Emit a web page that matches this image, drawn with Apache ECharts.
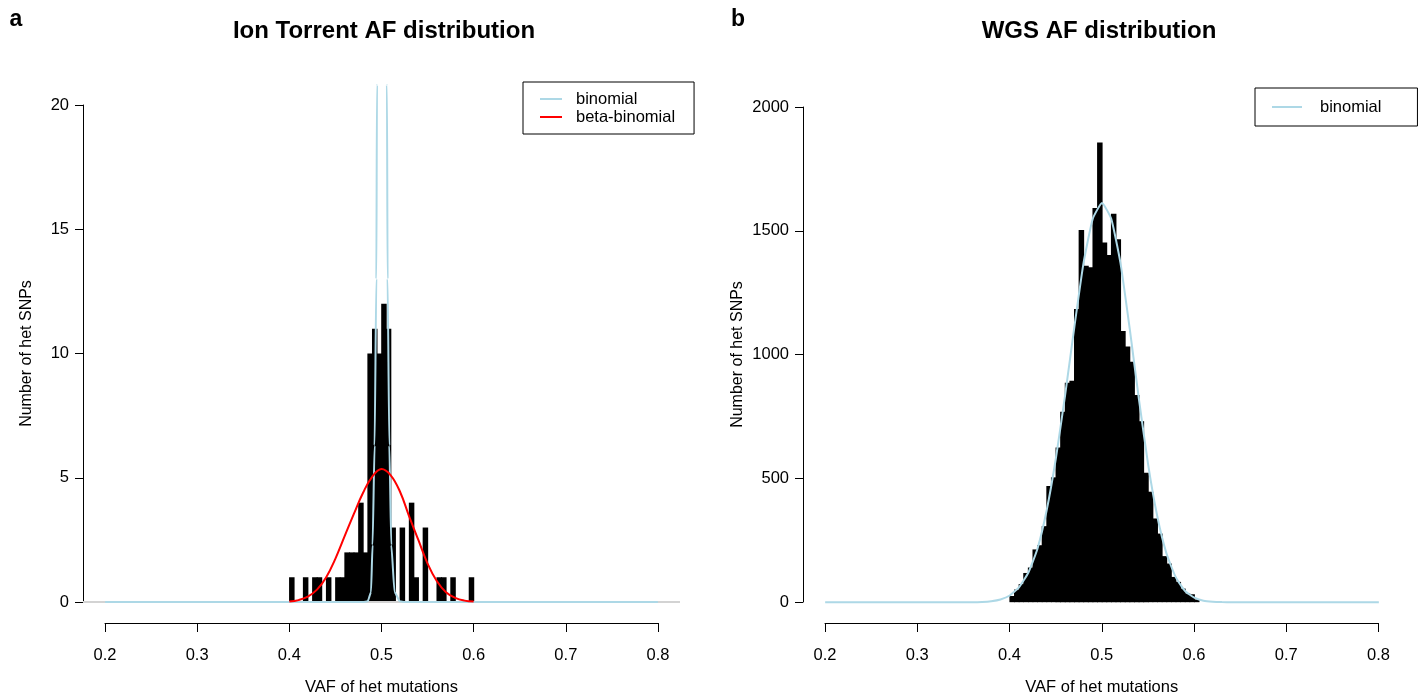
<!DOCTYPE html>
<html>
<head>
<meta charset="utf-8">
<title>AF distribution</title>
<script src="https://cdn.jsdelivr.net/npm/echarts@6/dist/echarts.min.js"></script>
<style>
    html, body { margin: 0; padding: 0; background: #fff; }
    #main { width: 1426px; height: 694px; }
</style>
</head>
<body>
<div id="main"></div>
<script>
    var FONT = '"Liberation Sans", Arial, sans-serif';

    // histogram bins (width 0.005, first bin starts at 0.4)
    var binW = 0.005;
    var ionBinStart = 0.4;
    var ionCounts = [1, 0, 0, 1, 0, 1, 1, 0, 1, 0,
        1, 1, 2, 2, 2, 4, 2, 10, 11, 10,
        12, 11, 3, 0, 3, 0, 4, 1, 0, 3,
        0, 0, 1, 1, 0, 1, 0, 0, 0, 1];
    var wgsBinStart = 0.4;
    var wgsCounts = [25, 51, 73, 118, 140, 213, 230, 307, 469, 504,
        625, 769, 886, 894, 1184, 1503, 1358, 1352, 1591, 1856,
        1452, 1402, 1568, 1465, 1095, 1032, 971, 836, 731, 523,
        446, 338, 277, 186, 156, 102, 82, 55, 35, 32,
        11];

    // fitted curves
    var ionBinomX = [0.2, 0.48, 0.485, 0.4886, 0.4903, 0.4925, 0.4944, 0.4951, 0.4965, 0.5005,
        0.5045, 0.5059, 0.5066, 0.5085, 0.5106, 0.5142, 0.52, 0.525, 0.8];
    var ionBinomY = [0, 0, 0.03, 0.4, 2.3, 6.3, 13, 20.8, 30, 40,
        30, 20.8, 13, 6.3, 2.3, 0.4, 0.03, 0, 0];
    var ionBetaX = [0.40, 0.41, 0.42, 0.43, 0.44, 0.45, 0.46, 0.47, 0.48, 0.49, 0.50,
        0.51, 0.52, 0.53, 0.54, 0.55, 0.56, 0.57, 0.58, 0.59, 0.60];
    var ionBetaY = [0.02, 0.08, 0.22, 0.5, 1.0, 1.75, 2.65, 3.55, 4.4, 5.05, 5.35,
        5.1, 4.45, 3.45, 2.5, 1.55, 0.85, 0.4, 0.17, 0.06, 0.02];
    var wgsBinomX = [0.2, 0.36, 0.37, 0.38, 0.39, 0.40, 0.41, 0.42, 0.43, 0.44, 0.45, 0.46, 0.47, 0.48, 0.49, 0.50,
        0.51, 0.52, 0.53, 0.54, 0.55, 0.56, 0.57, 0.58, 0.59, 0.60, 0.61, 0.62, 0.63, 0.64, 0.8];
    var wgsBinomY = [0, 0, 1, 4, 11, 27, 60, 118, 215, 370, 580, 835, 1110, 1370, 1548, 1612,
        1548, 1370, 1105, 820, 555, 345, 195, 100, 45, 18, 6, 2, 0.5, 0, 0];

    // plot limits (R style, 4% beyond the axis range)
    var plotX = [0.176, 0.824];
    var ionPlotY = [-0.8, 20.8];
    var wgsPlotY = [-80, 2080];

    function toBars(start, counts) {
        var out = [];
        for (var i = 0; i < counts.length; i++) {
            out.push([start + i * binW, counts[i]]);
        }
        return out;
    }

    function toPoints(xs, ys) {
        var out = [];
        for (var i = 0; i < xs.length; i++) {
            out.push([xs[i], ys[i]]);
        }
        return out;
    }

    function renderBar(params, api) {
        var x0 = api.value(0);
        var h = api.value(1);
        if (!h) {
            return;
        }
        var p0 = api.coord([x0, 0]);
        var p1 = api.coord([x0 + binW, h]);
        return {
            type: 'rect',
            shape: { x: p0[0] - 0.3, y: p1[1], width: p1[0] - p0[0] + 0.9, height: p0[1] - p1[1] },
            style: { fill: '#000' }
        };
    }

    function hiddenAxis(grid, range) {
        return { type: 'value', gridIndex: grid, min: range[0], max: range[1], show: false };
    }

    function visibleX(grid) {
        return {
            type: 'value', gridIndex: grid, min: 0.2, max: 0.8, interval: 0.1, offset: 21,
            axisLine: { show: true, onZero: false, lineStyle: { color: '#000', width: 1 } },
            axisTick: { show: true, length: 9, lineStyle: { color: '#000' } },
            axisLabel: {
                margin: 24, fontSize: 16.5, color: '#000', fontFamily: FONT,
                showMinLabel: true, showMaxLabel: true,
                formatter: function (v) { return v.toFixed(1); }
            },
            splitLine: { show: false },
            name: 'VAF of het mutations', nameLocation: 'middle', nameGap: 56,
            nameTextStyle: { fontSize: 16.5, color: '#000', fontFamily: FONT }
        };
    }

    function visibleY(grid, max, step, gap) {
        return {
            type: 'value', gridIndex: grid, min: 0, max: max, interval: step, offset: 22,
            axisLine: { show: true, onZero: false, lineStyle: { color: '#000', width: 1 } },
            axisTick: { show: true, length: 8, lineStyle: { color: '#000' } },
            axisLabel: {
                margin: 14, fontSize: 16.5, color: '#000', fontFamily: FONT, showMaxLabel: true,
                formatter: function (v) { return String(v); }
            },
            splitLine: { show: false },
            name: 'Number of het SNPs', nameLocation: 'middle', nameGap: gap,
            nameTextStyle: { fontSize: 16, color: '#000', fontFamily: FONT }
        };
    }

    var chart = echarts.init(document.getElementById('main'));

    var option = {
        animation: false,
        backgroundColor: '#fff',
        grid: [
            { left: 83, top: 85, width: 597, height: 537, outerBoundsMode: 'none' },
            { left: 105, top: 105, width: 553, height: 497, outerBoundsMode: 'none' },
            { left: 803, top: 87, width: 598, height: 535, outerBoundsMode: 'none' },
            { left: 825, top: 107, width: 553.5, height: 495, outerBoundsMode: 'none' }
        ],
        xAxis: [
            hiddenAxis(0, plotX),
            visibleX(1),
            hiddenAxis(2, plotX),
            visibleX(3)
        ],
        yAxis: [
            hiddenAxis(0, ionPlotY),
            visibleY(1, 20, 5, 48),
            hiddenAxis(2, wgsPlotY),
            visibleY(3, 2000, 500, 57)
        ],
        legend: [
            {
                data: ['binomial', 'beta-binomial'],
                orient: 'vertical', left: 523, top: 82,
                borderColor: '#000', borderWidth: 1, borderRadius: 0,
                padding: [8, 19, 8, 17], itemGap: 0,
                icon: 'rect', itemWidth: 22, itemHeight: 2,
                selectedMode: false,
                textStyle: { fontSize: 16.5, color: '#000', fontFamily: FONT, lineHeight: 18, padding: [0, 0, 0, 9] }
            },
            {
                data: ['binomial'],
                orient: 'vertical', left: 1255, top: 88,
                borderColor: '#000', borderWidth: 1, borderRadius: 0,
                padding: [10, 36, 10, 17], itemGap: 0,
                icon: 'rect', itemWidth: 30, itemHeight: 2,
                selectedMode: false,
                textStyle: { fontSize: 16.5, color: '#000', fontFamily: FONT, lineHeight: 18, padding: [0, 0, 0, 13] }
            }
        ],
        graphic: [
            { type: 'text', x: 16, y: 20, style: { text: 'a', font: 'bold 23px ' + FONT, fill: '#000', textAlign: 'center', textVerticalAlign: 'middle' } },
            { type: 'text', x: 384, y: 31, style: { text: 'Ion Torrent AF distribution', font: 'bold 24px ' + FONT, fill: '#000', textAlign: 'center', textVerticalAlign: 'middle' } },
            { type: 'text', x: 738, y: 20, style: { text: 'b', font: 'bold 23px ' + FONT, fill: '#000', textAlign: 'center', textVerticalAlign: 'middle' } },
            { type: 'text', x: 1099, y: 31, style: { text: 'WGS AF distribution', font: 'bold 24px ' + FONT, fill: '#000', textAlign: 'center', textVerticalAlign: 'middle' } }
        ],
        series: [
            {
                name: 'ionHist', type: 'custom', xAxisIndex: 0, yAxisIndex: 0,
                renderItem: renderBar, encode: { x: 0, y: 1 },
                data: toBars(ionBinStart, ionCounts), silent: true
            },
            {
                name: 'baseline', type: 'line', xAxisIndex: 0, yAxisIndex: 0,
                data: toPoints(plotX, [0, 0]), symbol: 'none', silent: true,
                lineStyle: { color: '#d3d3d3', width: 2 }
            },
            {
                name: 'binomial', type: 'line', xAxisIndex: 0, yAxisIndex: 0,
                data: toPoints(ionBinomX, ionBinomY), symbol: 'none', clip: true,
                smooth: 0.2, smoothMonotone: 'x', silent: true,
                itemStyle: { color: '#add8e6' },
                lineStyle: { color: '#add8e6', width: 2 }
            },
            {
                name: 'beta-binomial', type: 'line', xAxisIndex: 0, yAxisIndex: 0,
                data: toPoints(ionBetaX, ionBetaY), symbol: 'none',
                smooth: 0.4, silent: true,
                itemStyle: { color: '#ff0000' },
                lineStyle: { color: '#ff0000', width: 2 }
            },
            {
                name: 'wgsHist', type: 'custom', xAxisIndex: 2, yAxisIndex: 2,
                renderItem: renderBar, encode: { x: 0, y: 1 },
                data: toBars(wgsBinStart, wgsCounts), silent: true
            },
            {
                name: 'binomial', type: 'line', xAxisIndex: 2, yAxisIndex: 2,
                data: toPoints(wgsBinomX, wgsBinomY), symbol: 'none',
                smooth: 0.15, silent: true,
                itemStyle: { color: '#add8e6' },
                lineStyle: { color: '#add8e6', width: 2 }
            }
        ]
    };

    chart.setOption(option);
</script>
</body>
</html>
